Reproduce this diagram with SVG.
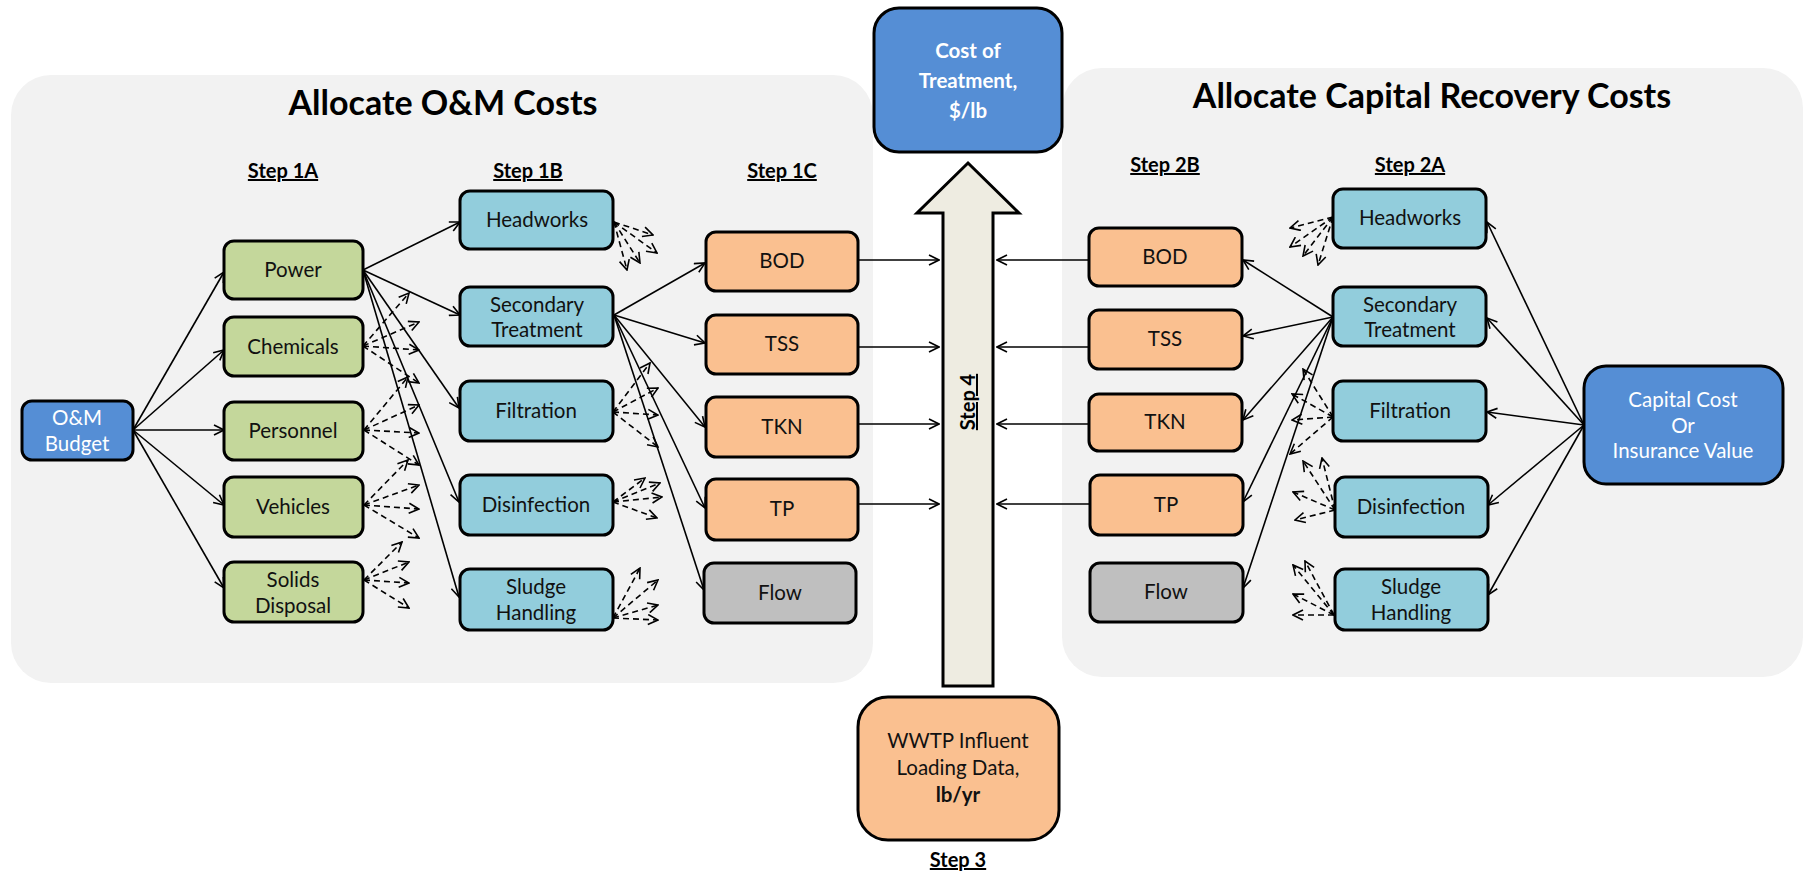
<svg xmlns="http://www.w3.org/2000/svg" width="1805" height="875" viewBox="0 0 1805 875">
  <defs>
    <marker id="arr" viewBox="0 0 12 12" refX="11" refY="6" markerWidth="12" markerHeight="12" markerUnits="userSpaceOnUse" orient="auto">
      <path d="M1,1 L11,6 L1,11" fill="none" stroke="#000" stroke-width="1.6"/>
    </marker>
    <style>
      .panel { fill: #F2F2F2; }
      .box { stroke: #000; stroke-width: 3; }
      .green { fill: #C4D79B; }
      .cyan { fill: #92CDDC; }
      .orange { fill: #FAC090; }
      .gray { fill: #BFBFBF; }
      .blue { fill: #558ED5; }
      .lbl { font-family: Lato, "Liberation Sans", sans-serif; font-size: 20.5px; fill: #111; text-anchor: middle; }
      .wlbl { font-family: Lato, "Liberation Sans", sans-serif; font-size: 20.5px; fill: #fff; text-anchor: middle; }
      .title { font-family: Lato, "Liberation Sans", sans-serif; font-size: 34px; font-weight: bold; fill: #000; text-anchor: middle; }
      .step { font-family: Lato, "Liberation Sans", sans-serif; font-size: 20px; font-weight: bold; fill: #000; text-anchor: middle; text-decoration: underline; }
      .solid { stroke: #000; stroke-width: 1.6; fill: none; marker-end: url(#arr); }
      .dash { stroke: #000; stroke-width: 1.6; fill: none; stroke-dasharray: 6 4; marker-end: url(#arr); }
    </style>
  </defs>

  <rect width="1805" height="875" fill="#fff"/>

  <!-- background panels -->
  <g id="panel-om">
    <rect class="panel" x="11" y="75" width="862" height="608" rx="40"/>
    <text class="title" x="443" y="115">Allocate O&amp;M Costs</text>
    <text class="step" x="283" y="178">Step 1A</text>
    <text class="step" x="528" y="178">Step 1B</text>
    <text class="step" x="782" y="178">Step 1C</text>
  </g>
  <g id="panel-capital">
    <rect class="panel" x="1062" y="68" width="741" height="609" rx="40"/>
    <text class="title" x="1432" y="108">Allocate Capital Recovery Costs</text>
    <text class="step" x="1165" y="172">Step 2B</text>
    <text class="step" x="1410" y="172">Step 2A</text>
  </g>

  <!-- connectors -->
  <g id="connectors">
    <!-- O&M budget to step 1A -->
    <line class="solid" x1="133" y1="430" x2="224" y2="272"/>
    <line class="solid" x1="133" y1="430" x2="224" y2="350"/>
    <line class="solid" x1="133" y1="430" x2="224" y2="430"/>
    <line class="solid" x1="133" y1="430" x2="224" y2="505"/>
    <line class="solid" x1="133" y1="430" x2="224" y2="588"/>
    <!-- Power to step 1B -->
    <line class="solid" x1="363" y1="270" x2="460" y2="222"/>
    <line class="solid" x1="363" y1="270" x2="460" y2="315"/>
    <line class="solid" x1="363" y1="270" x2="459" y2="408"/>
    <line class="solid" x1="363" y1="270" x2="459" y2="502"/>
    <line class="solid" x1="363" y1="270" x2="459" y2="597"/>
    <!-- dashed fans, step 1A -->
    <g>
      <line class="dash" x1="363" y1="346" x2="409" y2="293"/>
      <line class="dash" x1="363" y1="346" x2="419" y2="322"/>
      <line class="dash" x1="363" y1="346" x2="419" y2="350"/>
      <line class="dash" x1="363" y1="346" x2="419" y2="383"/>
      <line class="dash" x1="364" y1="430" x2="408" y2="377"/>
      <line class="dash" x1="364" y1="430" x2="419" y2="405"/>
      <line class="dash" x1="364" y1="430" x2="419" y2="433"/>
      <line class="dash" x1="364" y1="430" x2="419" y2="465"/>
      <line class="dash" x1="364" y1="505" x2="408" y2="460"/>
      <line class="dash" x1="364" y1="505" x2="419" y2="485"/>
      <line class="dash" x1="364" y1="505" x2="419" y2="509"/>
      <line class="dash" x1="364" y1="505" x2="419" y2="538"/>
      <line class="dash" x1="364" y1="580" x2="402" y2="542"/>
      <line class="dash" x1="364" y1="580" x2="409" y2="562"/>
      <line class="dash" x1="364" y1="580" x2="409" y2="583"/>
      <line class="dash" x1="364" y1="580" x2="409" y2="608"/>
    </g>
    <!-- Secondary treatment to step 1C -->
    <line class="solid" x1="614" y1="315" x2="705" y2="263"/>
    <line class="solid" x1="614" y1="315" x2="705" y2="343"/>
    <line class="solid" x1="614" y1="315" x2="705" y2="427"/>
    <line class="solid" x1="614" y1="315" x2="705" y2="508"/>
    <line class="solid" x1="614" y1="315" x2="704" y2="590"/>
    <!-- dashed fans, step 1B -->
    <g>
      <line class="dash" x1="614" y1="222" x2="653" y2="235"/>
      <line class="dash" x1="614" y1="222" x2="657" y2="253"/>
      <line class="dash" x1="614" y1="222" x2="640" y2="263"/>
      <line class="dash" x1="614" y1="222" x2="627" y2="270"/>
      <line class="dash" x1="613" y1="412" x2="650" y2="363"/>
      <line class="dash" x1="613" y1="412" x2="658" y2="388"/>
      <line class="dash" x1="613" y1="412" x2="658" y2="415"/>
      <line class="dash" x1="613" y1="412" x2="658" y2="447"/>
      <line class="dash" x1="613" y1="502" x2="645" y2="478"/>
      <line class="dash" x1="613" y1="502" x2="660" y2="483"/>
      <line class="dash" x1="613" y1="502" x2="662" y2="497"/>
      <line class="dash" x1="613" y1="502" x2="657" y2="518"/>
      <line class="dash" x1="613" y1="618" x2="640" y2="568"/>
      <line class="dash" x1="613" y1="618" x2="658" y2="580"/>
      <line class="dash" x1="613" y1="618" x2="658" y2="605"/>
      <line class="dash" x1="613" y1="618" x2="658" y2="620"/>
    </g>
    <!-- loads into the step 4 arrow -->
    <line class="solid" x1="858" y1="260" x2="939" y2="260"/>
    <line class="solid" x1="858" y1="347" x2="939" y2="347"/>
    <line class="solid" x1="858" y1="424" x2="939" y2="424"/>
    <line class="solid" x1="858" y1="504" x2="939" y2="504"/>
    <line class="solid" x1="1089" y1="260" x2="997" y2="260"/>
    <line class="solid" x1="1089" y1="347" x2="997" y2="347"/>
    <line class="solid" x1="1089" y1="424" x2="997" y2="424"/>
    <line class="solid" x1="1089" y1="504" x2="997" y2="504"/>
    <!-- Secondary treatment to step 2B -->
    <line class="solid" x1="1333" y1="317" x2="1243" y2="260"/>
    <line class="solid" x1="1333" y1="317" x2="1243" y2="336"/>
    <line class="solid" x1="1333" y1="317" x2="1243" y2="420"/>
    <line class="solid" x1="1333" y1="317" x2="1243" y2="502"/>
    <line class="solid" x1="1333" y1="317" x2="1243" y2="588"/>
    <!-- dashed fans, step 2A -->
    <g>
      <line class="dash" x1="1333" y1="217" x2="1290" y2="228"/>
      <line class="dash" x1="1333" y1="217" x2="1290" y2="247"/>
      <line class="dash" x1="1333" y1="217" x2="1303" y2="256"/>
      <line class="dash" x1="1333" y1="217" x2="1318" y2="265"/>
      <line class="dash" x1="1333" y1="417" x2="1303" y2="369"/>
      <line class="dash" x1="1333" y1="417" x2="1292" y2="394"/>
      <line class="dash" x1="1333" y1="417" x2="1292" y2="420"/>
      <line class="dash" x1="1333" y1="417" x2="1290" y2="454"/>
      <line class="dash" x1="1335" y1="510" x2="1303" y2="461"/>
      <line class="dash" x1="1335" y1="510" x2="1322" y2="458"/>
      <line class="dash" x1="1335" y1="510" x2="1293" y2="492"/>
      <line class="dash" x1="1335" y1="510" x2="1295" y2="520"/>
      <line class="dash" x1="1334" y1="615" x2="1293" y2="565"/>
      <line class="dash" x1="1334" y1="615" x2="1305" y2="561"/>
      <line class="dash" x1="1334" y1="615" x2="1293" y2="594"/>
      <line class="dash" x1="1334" y1="615" x2="1293" y2="615"/>
    </g>
    <!-- capital cost to step 2A -->
    <line class="solid" x1="1584" y1="425" x2="1487" y2="222"/>
    <line class="solid" x1="1584" y1="425" x2="1487" y2="318"/>
    <line class="solid" x1="1584" y1="425" x2="1487" y2="412"/>
    <line class="solid" x1="1584" y1="425" x2="1488" y2="505"/>
    <line class="solid" x1="1584" y1="425" x2="1488" y2="595"/>
  </g>

  <!-- O&M budget -->
  <g id="om-budget">
    <rect class="box blue" x="22" y="401" width="111" height="59" rx="10"/>
    <text class="wlbl" x="77" y="425">O&amp;M</text>
    <text class="wlbl" x="77" y="451">Budget</text>
  </g>

  <!-- step 1A -->
  <g id="a1-power"><rect class="box green" x="224" y="241" width="139" height="58" rx="10"/><text class="lbl" x="293" y="277">Power</text></g>
  <g id="a1-chemicals"><rect class="box green" x="224" y="317" width="139" height="59" rx="10"/><text class="lbl" x="293" y="354">Chemicals</text></g>
  <g id="a1-personnel"><rect class="box green" x="224" y="402" width="139" height="58" rx="10"/><text class="lbl" x="293" y="438">Personnel</text></g>
  <g id="a1-vehicles"><rect class="box green" x="224" y="477" width="139" height="60" rx="10"/><text class="lbl" x="293" y="514">Vehicles</text></g>
  <g id="a1-solids"><rect class="box green" x="224" y="562" width="139" height="60" rx="10"/><text class="lbl" x="293" y="587">Solids</text><text class="lbl" x="293" y="613">Disposal</text></g>

  <!-- step 1B -->
  <g id="b1-headworks"><rect class="box cyan" x="460" y="191" width="153" height="58" rx="10"/><text class="lbl" x="537" y="227">Headworks</text></g>
  <g id="b1-secondary"><rect class="box cyan" x="460" y="287" width="153" height="59" rx="10"/><text class="lbl" x="537" y="312">Secondary</text><text class="lbl" x="537" y="337">Treatment</text></g>
  <g id="b1-filtration"><rect class="box cyan" x="460" y="381" width="153" height="60" rx="10"/><text class="lbl" x="536" y="418">Filtration</text></g>
  <g id="b1-disinfection"><rect class="box cyan" x="460" y="475" width="153" height="60" rx="10"/><text class="lbl" x="536" y="512">Disinfection</text></g>
  <g id="b1-sludge"><rect class="box cyan" x="460" y="569" width="153" height="61" rx="10"/><text class="lbl" x="536" y="594">Sludge</text><text class="lbl" x="536" y="620">Handling</text></g>

  <!-- step 1C -->
  <g id="c1-bod"><rect class="box orange" x="706" y="232" width="152" height="59" rx="10"/><text class="lbl" x="782" y="268">BOD</text></g>
  <g id="c1-tss"><rect class="box orange" x="706" y="315" width="152" height="59" rx="10"/><text class="lbl" x="782" y="351">TSS</text></g>
  <g id="c1-tkn"><rect class="box orange" x="706" y="397" width="152" height="60" rx="10"/><text class="lbl" x="782" y="434">TKN</text></g>
  <g id="c1-tp"><rect class="box orange" x="706" y="479" width="152" height="61" rx="10"/><text class="lbl" x="782" y="516">TP</text></g>
  <g id="c1-flow"><rect class="box gray" x="704" y="563" width="152" height="60" rx="10"/><text class="lbl" x="780" y="600">Flow</text></g>

  <!-- step 4 arrow -->
  <g id="step4">
    <polygon points="968,163 1019,213 993,213 993,686 943,686 943,213 917,213" fill="#EEECE1" stroke="#000" stroke-width="3" stroke-linejoin="miter"/>
    <text class="step" transform="translate(975,402) rotate(-90)" x="0" y="0">Step 4</text>
  </g>

  <!-- cost of treatment -->
  <g id="cost-of-treatment">
    <rect class="box blue" x="874" y="8" width="188" height="144" rx="25"/>
    <text class="wlbl" x="968" y="58" font-weight="bold" font-size="24">Cost of</text>
    <text class="wlbl" x="968" y="88" font-weight="bold" font-size="24">Treatment,</text>
    <text class="wlbl" x="968" y="118" font-weight="bold" font-size="24">$/lb</text>
  </g>

  <!-- influent loading data -->
  <g id="influent-loading">
    <rect class="box orange" x="858" y="697" width="201" height="143" rx="30"/>
    <text class="lbl" x="958" y="748">WWTP Influent</text>
    <text class="lbl" x="958" y="775">Loading Data,</text>
    <text class="lbl" x="958" y="802" font-weight="bold">lb/yr</text>
    <text class="step" x="958" y="867">Step 3</text>
  </g>

  <!-- step 2B -->
  <g id="b2-bod"><rect class="box orange" x="1089" y="228" width="153" height="58" rx="10"/><text class="lbl" x="1165" y="264">BOD</text></g>
  <g id="b2-tss"><rect class="box orange" x="1089" y="310" width="153" height="59" rx="10"/><text class="lbl" x="1165" y="346">TSS</text></g>
  <g id="b2-tkn"><rect class="box orange" x="1089" y="394" width="153" height="57" rx="10"/><text class="lbl" x="1165" y="429">TKN</text></g>
  <g id="b2-tp"><rect class="box orange" x="1090" y="475" width="153" height="60" rx="10"/><text class="lbl" x="1166" y="512">TP</text></g>
  <g id="b2-flow"><rect class="box gray" x="1090" y="563" width="153" height="59" rx="10"/><text class="lbl" x="1166" y="599">Flow</text></g>

  <!-- step 2A -->
  <g id="a2-headworks"><rect class="box cyan" x="1333" y="189" width="153" height="59" rx="10"/><text class="lbl" x="1410" y="225">Headworks</text></g>
  <g id="a2-secondary"><rect class="box cyan" x="1333" y="287" width="153" height="59" rx="10"/><text class="lbl" x="1410" y="312">Secondary</text><text class="lbl" x="1410" y="337">Treatment</text></g>
  <g id="a2-filtration"><rect class="box cyan" x="1333" y="381" width="153" height="60" rx="10"/><text class="lbl" x="1410" y="418">Filtration</text></g>
  <g id="a2-disinfection"><rect class="box cyan" x="1335" y="477" width="153" height="60" rx="10"/><text class="lbl" x="1411" y="514">Disinfection</text></g>
  <g id="a2-sludge"><rect class="box cyan" x="1335" y="569" width="153" height="61" rx="10"/><text class="lbl" x="1411" y="594">Sludge</text><text class="lbl" x="1411" y="620">Handling</text></g>

  <!-- capital cost -->
  <g id="capital-cost">
    <rect class="box blue" x="1584" y="366" width="199" height="118" rx="22"/>
    <text class="wlbl" x="1683" y="407">Capital Cost</text>
    <text class="wlbl" x="1683" y="433">Or</text>
    <text class="wlbl" x="1683" y="458">Insurance Value</text>
  </g>
</svg>
